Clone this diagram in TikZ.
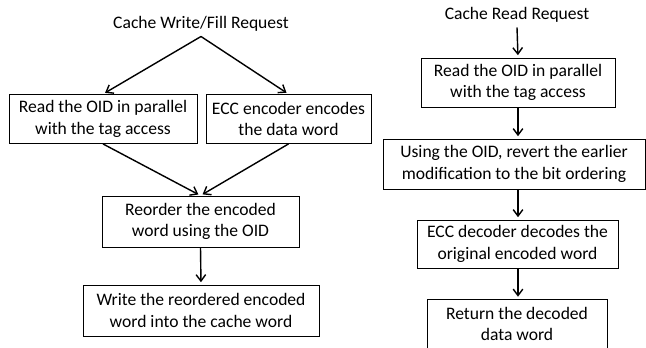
\documentclass[tikz,border=0pt]{standalone}
\usepackage{fontspec}
\setmainfont{Carlito}
\usetikzlibrary{arrows.meta}

\begin{document}
\begin{tikzpicture}[
   procbox/.style={draw,line width=0.6pt,align=center,inner sep=0pt,minimum height=1.225cm},
   flow/.style={line width=1pt,-{Straight Barb[length=1.6mm,width=2.4mm]},shorten >=0.06cm},
   font=\fontsize{12.5}{15.5}\selectfont]
\useasboundingbox (0,0) rectangle (16.15,-8.675);
% write / fill path
   \node (wreq) at (5.025,-0.6) {Cache Write/Fill Request};
   \node[procbox,minimum width=4.7cm] (wtag) at (2.575,-2.975) {Read the OID in parallel\\with the tag access};
   \node[procbox,minimum width=4.125cm] (wecc) at (7.2125,-2.975) {ECC encoder encodes\\the data word};
   \node[procbox,minimum width=4.925cm,minimum height=1.275cm] (wperm) at (5.0125,-5.5375) {Reorder the encoded\\word using the OID};
   \node[procbox,minimum width=5.9cm,minimum height=1.275cm] (wout) at (5.025,-7.7625) {Write the reordered encoded\\word into the cache word};
% read path
   \node (rreq) at (12.925,-0.375) {Cache Read Request};
   \node[procbox,minimum width=4.85cm] (rtag) at (12.95,-2.0625) {Read the OID in parallel\\with the tag access};
   \node[procbox,minimum width=6.55cm,minimum height=1.25cm] (rperm) at (12.85,-4.1) {Using the OID, revert the earlier\\modification to the bit ordering};
   \node[procbox,minimum width=5.025cm,minimum height=1.2cm] (recc) at (12.9375,-6.1) {ECC decoder decodes the\\original encoded word};
   \node[procbox,minimum width=4.5cm] (rout) at (12.925,-8.1) {Return the decoded\\data word};
\begin{scope}[flow]
   \draw (wreq.south) -- (wtag.north);
   \draw (wreq.south) -- (wecc.north);
   \draw (wtag.south) -- (wperm.north);
   \draw (wecc.south) -- (wperm.north);
   \draw (wperm.south) -- (wout.north);
   \draw (rreq.south) -- (rtag.north);
   \draw (rtag.south) -- (rtag.south |- rperm.north);
   \draw (rtag.south |- rperm.south) -- (rtag.south |- recc.north);
   \draw (rtag.south |- recc.south) -- (rtag.south |- rout.north);
\end{scope}
\end{tikzpicture}
\end{document}
